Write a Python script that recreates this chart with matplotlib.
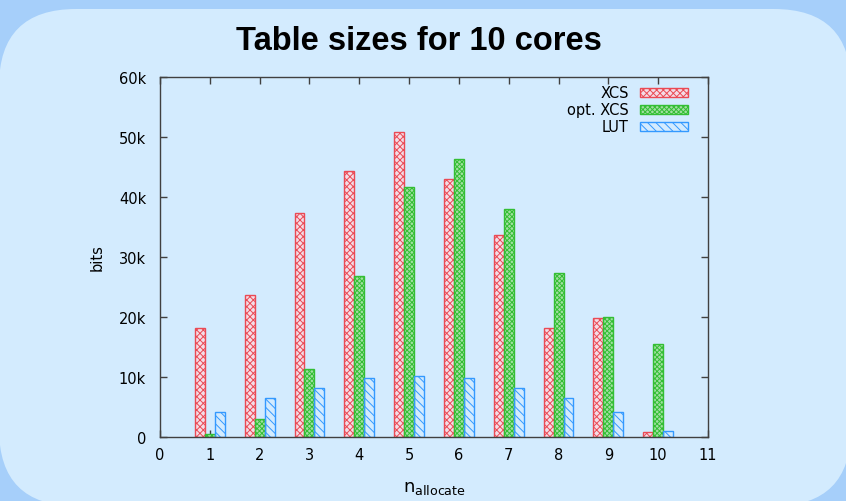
import numpy as np
import matplotlib
matplotlib.use('Agg')
import matplotlib.pyplot as plt
from matplotlib.patches import FancyBboxPatch, Rectangle

# table sizes (bits) per n_allocate
n_alloc = [1, 2, 3, 4, 5, 6, 7, 8, 9, 10]
xcs = [18200, 23700, 37300, 44400, 50900, 43000, 33600, 18200, 19800, 900]
opt_xcs = [500, 3050, 11400, 26900, 41700, 46400, 38000, 27400, 20050, 15500]
lut = [4200, 6550, 8100, 9900, 10200, 9900, 8100, 6550, 4200, 1050]

yticks = [0, 10000, 20000, 30000, 40000, 50000, 60000]
ytick_labels = ['0', '10k', '20k', '30k', '40k', '50k', '60k']

plt.rcParams['hatch.linewidth'] = 0.7
plt.rcParams['mathtext.fontset'] = 'dejavusans'

fig = plt.figure(figsize=(8.46, 5.02), dpi=100)
fig.patch.set_facecolor('#a6cffa')

# rounded light panel behind everything (inches)
r = 0.77
x0, y0, w, h = -0.01, -0.05, 8.52, 4.97
panel = FancyBboxPatch((x0 + r, y0 + r), w - 2 * r, h - 2 * r,
                       boxstyle='round,pad=%f' % r, transform=fig.dpi_scale_trans,
                       facecolor='#d3ebfe', edgecolor='none', zorder=0)
fig.add_artist(panel)

ax = fig.add_axes([160 / 846, 1 - 438 / 502, 548 / 846, 360 / 502])
ax.set_facecolor('none')

red_fc, red_ec = '#f4dce6', '#ea4a55'
grn_fc, grn_ec = '#a2e0a2', '#34be34'
blu_ec = '#3399ff'

x = np.array(n_alloc)
bw = 0.2
ax.bar(x - bw, xcs, bw, facecolor=red_fc, edgecolor=red_ec, hatch='xxxxx', linewidth=1.0, zorder=2)
ax.bar(x, opt_xcs, bw, facecolor=grn_fc, edgecolor=grn_ec, hatch='xxxxxxx', linewidth=1.0, zorder=2)
ax.bar(x + bw, lut, bw, facecolor='none', edgecolor=blu_ec, hatch='\\\\\\\\', linewidth=1.0, zorder=2)

ax.set_xlim(0, 11)
ax.set_ylim(0, 60000)
ax.set_xticks(range(0, 12))
ax.set_yticks(yticks)
ax.set_yticklabels(ytick_labels)
ax.tick_params(direction='in', length=5, width=1, color='#404040',
               top=True, right=True, labelsize=10.5, labelcolor='black')
ax.tick_params(axis='y', pad=10)
ax.tick_params(axis='x', pad=7)
for s in ax.spines.values():
    s.set_color('#404040')
    s.set_linewidth(1.0)

ax.set_ylabel('bits', fontsize=10.5, labelpad=10)
ax.set_xlabel(r'$\mathrm{n}_{\mathrm{allocate}}$', fontsize=13, labelpad=12)

# gnuplot style key: text right aligned, sample box after it
key = [('XCS', red_fc, red_ec, 'xxxxx'),
       ('opt. XCS', grn_fc, grn_ec, 'xxxxxxx'),
       ('LUT', 'none', blu_ec, '\\\\\\\\')]
rows = [0.958, 0.91, 0.862]
for (lab, fc, ec, ht), yy in zip(key, rows):
    ax.text(0.8558, yy, lab, transform=ax.transAxes, ha='right', va='center', fontsize=10.5)
    ax.add_patch(Rectangle((0.876, yy - 0.0125), 0.0876, 0.025, transform=ax.transAxes,
                           facecolor=fc, edgecolor=ec, hatch=ht, linewidth=1.0, clip_on=False))

fig.text(0.495, 1 - 42 / 502, 'Table sizes for 10 cores', ha='center', va='center',
         fontsize=23.5, fontweight='bold', family='Liberation Sans')

fig.savefig('out.png', dpi=100, facecolor=fig.get_facecolor())
